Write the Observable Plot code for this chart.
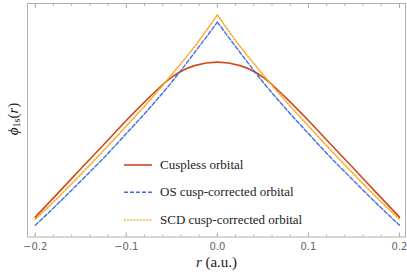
<!DOCTYPE html>
<html>
<head>
<meta charset="utf-8">
<script src="https://cdn.jsdelivr.net/npm/d3@7"></script>
<script src="https://cdn.jsdelivr.net/npm/@observablehq/plot@0.6"></script>
<style>
  html, body { margin: 0; padding: 0; background: #fff; }
  #wrap { position: relative; width: 407px; height: 280px; }
  .lab { position: absolute; font-family: 'Liberation Serif', serif; color: #222; white-space: nowrap; }
  .leg { font-size: 13px; line-height: 16px; height: 16px; }
  .xt { font-size: 15px; line-height: 18px; width: 200px; text-align: center; }
  .yt { font-size: 15px; line-height: 18px; width: 80px; text-align: center; transform: rotate(-90deg); transform-origin: 50% 50%; }
  .yt sub { font-size: 10px; vertical-align: -2px; line-height: 0; }
</style>
</head>
<body>
<div id="wrap"></div>
<script>
// r values (a.u.)
const rs = [-0.2, -0.175, -0.15, -0.125, -0.1, -0.075, -0.05, -0.025, 0,
             0.025, 0.05, 0.075, 0.1, 0.125, 0.15, 0.175, 0.2];
// orbital values (arbitrary units)
const cuspless = [0.085, 0.188, 0.292, 0.395, 0.499, 0.597, 0.685, 0.734, 0.749,
                  0.734, 0.685, 0.597, 0.499, 0.395, 0.292, 0.188, 0.085];
const osCorrected = [0.050, 0.143, 0.240, 0.338, 0.443, 0.550, 0.664, 0.790, 0.920,
                     0.790, 0.664, 0.550, 0.443, 0.338, 0.240, 0.143, 0.050];
const scdCorrected = [0.076, 0.169, 0.268, 0.370, 0.475, 0.582, 0.696, 0.816, 0.951,
                      0.816, 0.696, 0.582, 0.475, 0.370, 0.268, 0.169, 0.076];
const seriesNames = ["Cuspless orbital", "OS cusp-corrected orbital", "SCD cusp-corrected orbital"];
const seriesColors = ["#cc4a1c", "#3d72d9", "#ffa31a"];
const seriesDash = [null, "4,2", "1.6,1.6"];
const majorTicks = [-0.2, -0.1, 0, 0.1, 0.2];
const minorTicks = [-0.2, -0.18, -0.16, -0.14, -0.12, -0.1, -0.08, -0.06, -0.04, -0.02, 0,
                    0.02, 0.04, 0.06, 0.08, 0.1, 0.12, 0.14, 0.16, 0.18, 0.2];

// build tables; cusp curves are split into left/right branches
function table(vals, name, split) {
  return rs.map((r, i) => ({r, v: vals[i], s: name}))
    .flatMap(d => {
      if (!split) return [{...d, b: name}];
      if (d.r < 0) return [{...d, b: name + "L"}];
      if (d.r > 0) return [{...d, b: name + "R"}];
      return [{...d, b: name + "L"}, {...d, b: name + "R"}];
    });
}
const dCusp = table(cuspless, seriesNames[0], false);
const dOS = table(osCorrected, seriesNames[1], true);
const dSCD = table(scdCorrected, seriesNames[2], true);

const fmt = d3.format(".1f");

const chart = Plot.plot({
  width: 407,
  height: 280,
  marginLeft: 27,
  marginRight: 2,
  marginTop: 3,
  marginBottom: 43.5,
  style: {background: "#fff", overflow: "visible"},
  x: {domain: [-0.2085, 0.2066]},
  y: {domain: [0, 1], axis: null},
  marks: [
    Plot.frame({stroke: "#b0b0b0", strokeWidth: 1}),
    Plot.axisX({anchor: "bottom", ticks: minorTicks, tickSize: -2, stroke: "#b0b0b0", text: null, label: null}),
    Plot.axisX({anchor: "bottom", ticks: majorTicks, tickSize: -4, stroke: "#b0b0b0", text: null, label: null}),
    Plot.axisX({anchor: "top", ticks: minorTicks, tickSize: -2, stroke: "#b0b0b0", text: null, label: null}),
    Plot.axisX({anchor: "top", ticks: majorTicks, tickSize: -4, stroke: "#b0b0b0", text: null, label: null}),
    Plot.axisX({anchor: "bottom", ticks: majorTicks, tickSize: 0, tickPadding: 6, tickFormat: fmt,
                fill: "#666", fontSize: 10, fontFamily: "DejaVu Sans", label: null}),
    Plot.line(dCusp, {x: "r", y: "v", z: "b", stroke: seriesColors[0], strokeWidth: 1.6, curve: "monotone-x"}),
    Plot.line(dOS, {x: "r", y: "v", z: "b", stroke: seriesColors[1], strokeWidth: 1.4, strokeDasharray: seriesDash[1], curve: "monotone-x"}),
    Plot.line(dSCD, {x: "r", y: "v", z: "b", stroke: seriesColors[2], strokeWidth: 1.5, strokeDasharray: seriesDash[2], curve: "monotone-x"})
  ]
});

const wrap = document.getElementById("wrap");
wrap.appendChild(chart);
chart.style.position = "absolute";
chart.style.left = "0px";
chart.style.top = "0px";

const svg = d3.select(chart);
const W = d3.select(wrap);

// legend
const rowY = [165, 192.3, 220];
seriesNames.forEach((name, i) => {
  svg.append("line")
    .attr("x1", 124).attr("x2", 152).attr("y1", rowY[i]).attr("y2", rowY[i])
    .attr("stroke", seriesColors[i]).attr("stroke-width", i === 0 ? 1.6 : 1.5)
    .attr("stroke-dasharray", seriesDash[i]);
  W.append("div").attr("class", "lab leg")
    .style("left", "160px").style("top", (rowY[i] - 8.5) + "px")
    .text(name);
});

// x axis title
W.append("div").attr("class", "lab xt")
  .style("left", "116.5px").style("top", "253px")
  .html("<i>r</i> (a.u.)");

// y axis title
W.append("div").attr("class", "lab yt")
  .style("left", (13 - 40) + "px").style("top", (119 - 9) + "px")
  .html("<i>ϕ</i><sub>1s</sub>(<i>r</i>)");
</script>
</body>
</html>
